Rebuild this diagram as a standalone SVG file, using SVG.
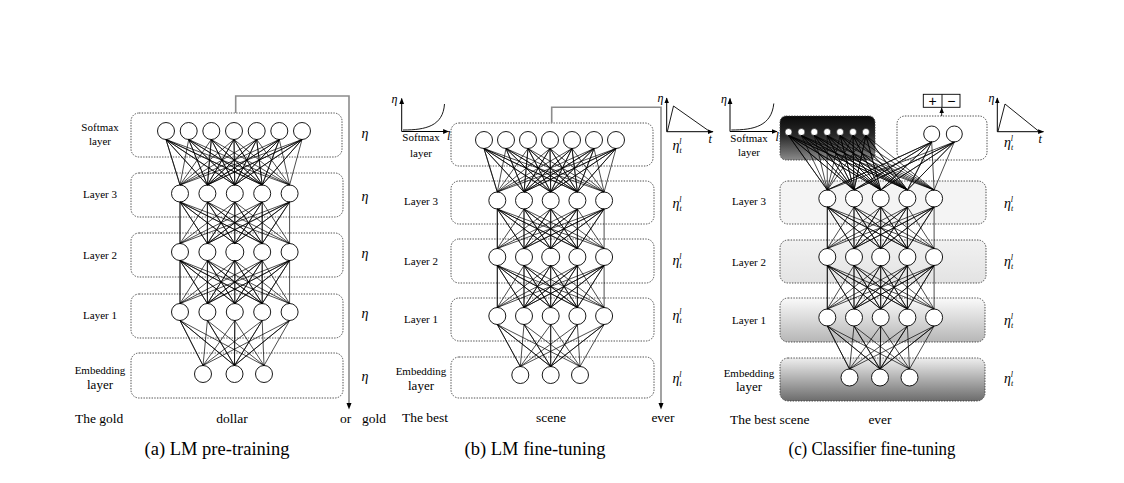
<svg xmlns="http://www.w3.org/2000/svg" width="1124" height="483" viewBox="0 0 1124 483">
<defs>
<style>
.box{fill:none;stroke:#3a3a3a;stroke-width:0.9;stroke-dasharray:1.4 1.3}
.n{fill:#fff;stroke:#000;stroke-width:0.9}
.sn{fill:#fff;stroke:#222;stroke-width:0.6}
.w{fill:none;stroke:#000;stroke-width:0.7;stroke-linejoin:round}
.flow{fill:none;stroke:#8c8c8c;stroke-width:1.6}
.ax{fill:none;stroke:#000;stroke-width:1}
.cv{fill:none;stroke:#000;stroke-width:0.9}
text{font-family:"Liberation Serif","Times New Roman",serif;fill:#000}
.lb{font-size:11px;text-anchor:middle}
.lb2{font-size:13px;text-anchor:middle}
.wd{font-size:13.5px}
.wdm{font-size:13.5px;text-anchor:middle}
.cap{font-size:18.5px;text-anchor:middle}
.eta{font-size:14px;font-style:italic}
.sm{font-size:8px;font-style:italic}
.gl{font-size:12px;font-style:italic}
</style>
<marker id="ah" viewBox="0 0 10 10" refX="9" refY="5" markerWidth="6" markerHeight="6" markerUnits="userSpaceOnUse" orient="auto"><path d="M0,1 L10,5 L0,9 z" fill="#000"/></marker>
<linearGradient id="gDark" x1="0" y1="0" x2="0" y2="1"><stop offset="0" stop-color="#0a0a0a"/><stop offset="0.45" stop-color="#2a2a2a"/><stop offset="1" stop-color="#8a8a8a"/></linearGradient>
<linearGradient id="gL2" x1="0" y1="0" x2="0" y2="1"><stop offset="0" stop-color="#f1f1f1"/><stop offset="1" stop-color="#e3e3e3"/></linearGradient>
<linearGradient id="gL1" x1="0" y1="0" x2="0" y2="1"><stop offset="0" stop-color="#fafafa"/><stop offset="1" stop-color="#b6b6b6"/></linearGradient>
<linearGradient id="gEmb" x1="0" y1="0" x2="0" y2="1"><stop offset="0" stop-color="#eeeeee"/><stop offset="1" stop-color="#6c6c6c"/></linearGradient>
</defs>
<rect width="1124" height="483" fill="#fff"/>

<!-- ===== Panel (a) ===== -->
<g id="a-softmax">
<rect class="box" x="131" y="113" width="211" height="44" rx="8"/>
<circle class="n" cx="166" cy="131" r="8.5"/><circle class="n" cx="188.7" cy="131" r="8.5"/><circle class="n" cx="211.3" cy="131" r="8.5"/><circle class="n" cx="234" cy="131" r="8.5"/><circle class="n" cx="256.7" cy="131" r="8.5"/><circle class="n" cx="279.3" cy="131" r="8.5"/><circle class="n" cx="302" cy="131" r="8.5"/>
<text class="lb" x="100" y="131">Softmax</text><text class="lb" x="100" y="145">layer</text>
<text class="eta" x="361.5" y="138">η</text>
</g>
<g id="a-layer3">
<rect class="box" x="131" y="173" width="212" height="44" rx="8"/>
<circle class="n" cx="180" cy="193.5" r="8.5"/><circle class="n" cx="207.4" cy="193.5" r="8.5"/><circle class="n" cx="234.8" cy="193.5" r="8.5"/><circle class="n" cx="262.2" cy="193.5" r="8.5"/><circle class="n" cx="289.6" cy="193.5" r="8.5"/>
<text class="lb" x="100" y="197.5">Layer 3</text>
<text class="eta" x="361.5" y="201">η</text>
</g>
<g id="a-layer2">
<rect class="box" x="131" y="233" width="212" height="44" rx="8"/>
<circle class="n" cx="180" cy="252" r="8.5"/><circle class="n" cx="207.4" cy="252" r="8.5"/><circle class="n" cx="234.8" cy="252" r="9"/><circle class="n" cx="262.2" cy="252" r="8.5"/><circle class="n" cx="289.6" cy="252" r="8.5"/>
<text class="lb" x="100" y="259">Layer 2</text>
<text class="eta" x="361.5" y="258">η</text>
</g>
<g id="a-layer1">
<rect class="box" x="131" y="294" width="212" height="44" rx="8"/>
<circle class="n" cx="180" cy="312" r="8.5"/><circle class="n" cx="207.4" cy="312" r="8.5"/><circle class="n" cx="234.8" cy="312" r="8.5"/><circle class="n" cx="262.2" cy="312" r="8.5"/><circle class="n" cx="289.6" cy="312" r="8.5"/>
<text class="lb" x="100" y="319">Layer 1</text>
<text class="eta" x="361.5" y="318">η</text>
</g>
<g id="a-embedding">
<rect class="box" x="131" y="353" width="212" height="45" rx="8"/>
<circle class="n" cx="203" cy="374" r="8.5"/><circle class="n" cx="234.5" cy="374" r="8.5"/><circle class="n" cx="264" cy="374" r="8.5"/>
<text class="lb" x="100" y="374">Embedding</text><text class="lb2" x="100" y="389">layer</text>
<text class="eta" x="361.5" y="380.5">η</text>
</g>
<g id="a-words">
<text class="wd" x="75" y="422.5">The gold</text>
<text class="wdm" x="232" y="422.5">dollar</text>
<text class="wd" x="340" y="422.5">or</text>
<text class="wd" x="362" y="422.5">gold</text>
<text class="cap" x="217" y="455">(a) LM pre-training</text>
</g>

<!-- ===== Panel (b) ===== -->
<g id="b-lr-discriminative">
<path class="ax" d="M401.7,131.5 V98.5" marker-end="url(#ah)"/>
<path class="ax" d="M401.7,131.5 H448.5" marker-end="url(#ah)"/>
<path class="cv" d="M403,130 C426,130 443,126 444.5,104"/>
<text class="gl" x="394.5" y="103" text-anchor="middle">η</text>
<text class="gl" x="447" y="140">l</text>
</g>
<g id="b-softmax">
<rect class="box" x="451" y="123" width="202" height="43" rx="8"/>
<circle class="n" cx="484" cy="140" r="8.5"/><circle class="n" cx="506" cy="140" r="8.5"/><circle class="n" cx="528" cy="140" r="8.5"/><circle class="n" cx="550" cy="140" r="8.5"/><circle class="n" cx="572" cy="140" r="8.5"/><circle class="n" cx="594" cy="140" r="8.5"/><circle class="n" cx="616" cy="140" r="8.5"/>
<text class="lb" x="421" y="141">Softmax</text><text class="lb" x="421" y="156.5">layer</text>
</g>
<g id="b-lr-slanted">
<path class="ax" d="M666.7,131.7 V98" marker-end="url(#ah)"/>
<path class="ax" d="M666.7,131.7 H713" marker-end="url(#ah)"/>
<path class="cv" d="M667.3,131.7 L673.5,106 L710,131.7"/>
<text class="gl" x="660.5" y="102" text-anchor="middle">η</text>
<text class="gl" x="708.5" y="143">t</text>
<text class="eta" x="672.5" y="150">η<tspan class="sm" dy="3">t</tspan><tspan class="sm" dx="-2.5" dy="-9">l</tspan></text>
</g>
<g id="b-layer3">
<rect class="box" x="451" y="181" width="203" height="43" rx="8"/>
<circle class="n" cx="497.3" cy="200.5" r="8.5"/><circle class="n" cx="524" cy="200.5" r="8.5"/><circle class="n" cx="550.7" cy="200.5" r="8.5"/><circle class="n" cx="577.4" cy="200.5" r="8.5"/><circle class="n" cx="604.1" cy="200.5" r="8.5"/>
<text class="lb" x="421" y="205">Layer 3</text>
<text class="eta" x="672.5" y="208">η<tspan class="sm" dy="3">t</tspan><tspan class="sm" dx="-2.5" dy="-9">l</tspan></text>
</g>
<g id="b-layer2">
<rect class="box" x="451" y="239" width="203" height="44" rx="8"/>
<circle class="n" cx="497.3" cy="257" r="8.5"/><circle class="n" cx="524" cy="257" r="8.5"/><circle class="n" cx="550.7" cy="257" r="9"/><circle class="n" cx="577.4" cy="257" r="8.5"/><circle class="n" cx="604.1" cy="257" r="8.5"/>
<text class="lb" x="421" y="264.5">Layer 2</text>
<text class="eta" x="672.5" y="265">η<tspan class="sm" dy="3">t</tspan><tspan class="sm" dx="-2.5" dy="-9">l</tspan></text>
</g>
<g id="b-layer1">
<rect class="box" x="451" y="298" width="203" height="43" rx="8"/>
<circle class="n" cx="497.3" cy="316" r="8.5"/><circle class="n" cx="524" cy="316" r="8.5"/><circle class="n" cx="550.7" cy="316" r="8.5"/><circle class="n" cx="577.4" cy="316" r="8.5"/><circle class="n" cx="604.1" cy="316" r="8.5"/>
<text class="lb" x="421" y="322.5">Layer 1</text>
<text class="eta" x="672.5" y="320">η<tspan class="sm" dy="3">t</tspan><tspan class="sm" dx="-2.5" dy="-9">l</tspan></text>
</g>
<g id="b-embedding">
<rect class="box" x="451" y="357" width="203" height="41" rx="8"/>
<circle class="n" cx="520.3" cy="375" r="8.5"/><circle class="n" cx="550.7" cy="375" r="8.5"/><circle class="n" cx="580" cy="375" r="8.5"/>
<text class="lb" x="421" y="375">Embedding</text><text class="lb2" x="421" y="389.5">layer</text>
<text class="eta" x="672.5" y="383">η<tspan class="sm" dy="3">t</tspan><tspan class="sm" dx="-2.5" dy="-9">l</tspan></text>
</g>
<g id="b-words">
<text class="wd" x="402" y="422">The best</text>
<text class="wdm" x="551" y="422">scene</text>
<text class="wdm" x="663" y="422">ever</text>
<text class="cap" x="535" y="455">(b) LM fine-tuning</text>
</g>

<!-- ===== Panel (c) ===== -->
<g id="c-lr-discriminative">
<path class="ax" d="M730,131.5 V98.5" marker-end="url(#ah)"/>
<path class="ax" d="M730,131.5 H777" marker-end="url(#ah)"/>
<path class="cv" d="M731.3,130 C754,130 771.5,126 773.8,103.5"/>
<text class="gl" x="724" y="103" text-anchor="middle">η</text>
<text class="gl" x="775.5" y="141">l</text>
</g>
<g id="c-softmax">
<rect x="780" y="116" width="95" height="44" rx="6" fill="url(#gDark)"/>
<rect class="box" x="780" y="116" width="95" height="44" rx="6"/>
<circle class="sn" cx="788.5" cy="132" r="3.5"/><circle class="sn" cx="801.4" cy="132" r="3.5"/><circle class="sn" cx="814.3" cy="132" r="3.5"/><circle class="sn" cx="827.2" cy="132" r="3.5"/><circle class="sn" cx="840.1" cy="132" r="3.5"/><circle class="sn" cx="853" cy="132" r="3.5"/><circle class="sn" cx="865.9" cy="132" r="3.5"/>
<text class="lb" x="749" y="141.5">Softmax</text><text class="lb" x="749" y="155.5">layer</text>
</g>
<g id="c-classifier">
<rect class="box" x="897" y="116" width="90" height="44" rx="8"/>
<circle class="n" cx="931.7" cy="134" r="8"/><circle class="n" cx="954.3" cy="134" r="8"/>
</g>
<g id="c-output">
<rect x="923.3" y="94.3" width="36.7" height="13" fill="#fff" stroke="#000" stroke-width="0.9"/>
<line x1="942" y1="94.3" x2="942" y2="107.3" stroke="#000" stroke-width="0.9"/>
<text x="932.7" y="105.5" text-anchor="middle" style="font-family:'Liberation Sans',Arial,sans-serif;font-size:14px">+</text>
<text x="951.3" y="105.5" text-anchor="middle" style="font-family:'Liberation Sans',Arial,sans-serif;font-size:14px">−</text>
</g>
<g id="c-lr-slanted">
<path class="ax" d="M997.3,131.7 V98" marker-end="url(#ah)"/>
<path class="ax" d="M997.3,131.7 H1043.5" marker-end="url(#ah)"/>
<path class="cv" d="M997.9,131.7 L1005,104 L1039.3,131.7"/>
<text class="gl" x="991.5" y="102" text-anchor="middle">η</text>
<text class="gl" x="1038.5" y="143">t</text>
<text class="eta" x="1004" y="146.5">η<tspan class="sm" dy="3">t</tspan><tspan class="sm" dx="-2.5" dy="-9">l</tspan></text>
</g>
<g id="c-layer3">
<rect x="780" y="181" width="206" height="43" rx="8" fill="#f4f4f4"/>
<rect class="box" x="780" y="181" width="206" height="43" rx="8"/>
<circle class="n" cx="827.3" cy="198.5" r="8.5"/><circle class="n" cx="854" cy="198.5" r="8.5"/><circle class="n" cx="880.7" cy="198.5" r="8.5"/><circle class="n" cx="907.4" cy="198.5" r="8.5"/><circle class="n" cx="934.1" cy="198.5" r="8.5"/>
<text class="lb" x="749" y="205">Layer 3</text>
<text class="eta" x="1004" y="207.5">η<tspan class="sm" dy="3">t</tspan><tspan class="sm" dx="-2.5" dy="-9">l</tspan></text>
</g>
<g id="c-layer2">
<rect x="780" y="240" width="206" height="43" rx="8" fill="url(#gL2)"/>
<rect class="box" x="780" y="240" width="206" height="43" rx="8"/>
<circle class="n" cx="827.3" cy="257" r="8.5"/><circle class="n" cx="854" cy="257" r="8.5"/><circle class="n" cx="880.7" cy="257" r="9"/><circle class="n" cx="907.4" cy="257" r="8.5"/><circle class="n" cx="934.1" cy="257" r="8.5"/>
<text class="lb" x="749" y="266">Layer 2</text>
<text class="eta" x="1004" y="265.5">η<tspan class="sm" dy="3">t</tspan><tspan class="sm" dx="-2.5" dy="-9">l</tspan></text>
</g>
<g id="c-layer1">
<rect x="780" y="298" width="205" height="44" rx="8" fill="url(#gL1)"/>
<rect class="box" x="780" y="298" width="205" height="44" rx="8"/>
<circle class="n" cx="827.3" cy="317.5" r="8.5"/><circle class="n" cx="854" cy="317.5" r="8.5"/><circle class="n" cx="880.7" cy="317.5" r="8.5"/><circle class="n" cx="907.4" cy="317.5" r="8.5"/><circle class="n" cx="934.1" cy="317.5" r="8.5"/>
<text class="lb" x="749" y="324">Layer 1</text>
<text class="eta" x="1004" y="325">η<tspan class="sm" dy="3">t</tspan><tspan class="sm" dx="-2.5" dy="-9">l</tspan></text>
</g>
<g id="c-embedding">
<rect x="780" y="358" width="205" height="43" rx="8" fill="url(#gEmb)"/>
<rect class="box" x="780" y="358" width="205" height="43" rx="8"/>
<circle class="n" cx="849.5" cy="377.5" r="8.5"/><circle class="n" cx="880" cy="377.5" r="8.5"/><circle class="n" cx="909.5" cy="377.5" r="8.5"/>
<text class="lb" x="749" y="376.5">Embedding</text><text class="lb2" x="749" y="391">layer</text>
<text class="eta" x="1004" y="383">η<tspan class="sm" dy="3">t</tspan><tspan class="sm" dx="-2.5" dy="-9">l</tspan></text>
</g>
<g id="c-words">
<text class="wd" x="730" y="423.5">The best scene</text>
<text class="wdm" x="880" y="423.5">ever</text>
<text class="cap" x="872" y="455" textLength="167" lengthAdjust="spacingAndGlyphs">(c) Classifier fine-tuning</text>
</g>

<!-- ===== Connectors ===== -->
<g id="connectors">
<!-- panel a -->
<polyline class="w" points="166,139.5 180,185 166,139.5 207.4,185 166,139.5 234.8,185 166,139.5 262.2,185 166,139.5 289.6,185 188.7,139.5 262.2,185 188.7,139.5 234.8,185 188.7,139.5 207.4,185 188.7,139.5 180,185 211.3,139.5 207.4,185 211.3,139.5 234.8,185 211.3,139.5 262.2,185 211.3,139.5 289.6,185 234,139.5 262.2,185 234,139.5 234.8,185 234,139.5 207.4,185 234,139.5 180,185 256.7,139.5 207.4,185 256.7,139.5 234.8,185 256.7,139.5 262.2,185 256.7,139.5 289.6,185 279.3,139.5 262.2,185 279.3,139.5 234.8,185 279.3,139.5 207.4,185 279.3,139.5 180,185 302,139.5 207.4,185 302,139.5 234.8,185 302,139.5 262.2,185 302,139.5 289.6,185"/>
<polyline class="w" points="180,202 180,243.5 180,202 207.4,243.5 180,202 234.8,243.5 180,202 262.2,243.5 180,202 289.6,243.5 207.4,202 262.2,243.5 207.4,202 234.8,243.5 207.4,202 207.4,243.5 207.4,202 180,243.5 234.8,202 207.4,243.5 234.8,202 234.8,243.5 234.8,202 262.2,243.5 234.8,202 289.6,243.5 262.2,202 262.2,243.5 262.2,202 234.8,243.5 262.2,202 207.4,243.5 262.2,202 180,243.5 289.6,202 207.4,243.5 289.6,202 234.8,243.5 289.6,202 262.2,243.5 289.6,202 289.6,243.5"/>
<polyline class="w" points="180,260.5 180,303.5 180,260.5 207.4,303.5 180,260.5 234.8,303.5 180,260.5 262.2,303.5 180,260.5 289.6,303.5 207.4,260.5 262.2,303.5 207.4,260.5 234.8,303.5 207.4,260.5 207.4,303.5 207.4,260.5 180,303.5 234.8,260.5 207.4,303.5 234.8,260.5 234.8,303.5 234.8,260.5 262.2,303.5 234.8,260.5 289.6,303.5 262.2,260.5 262.2,303.5 262.2,260.5 234.8,303.5 262.2,260.5 207.4,303.5 262.2,260.5 180,303.5 289.6,260.5 207.4,303.5 289.6,260.5 234.8,303.5 289.6,260.5 262.2,303.5 289.6,260.5 289.6,303.5"/>
<polyline class="w" points="180,320.5 203,365.5 180,320.5 234.5,365.5 180,320.5 264,365.5 207.4,320.5 234.5,365.5 207.4,320.5 203,365.5 234.8,320.5 234.5,365.5 234.8,320.5 264,365.5 262.2,320.5 234.5,365.5 262.2,320.5 203,365.5 289.6,320.5 234.5,365.5 289.6,320.5 264,365.5"/>
<path class="flow" d="M235.7,113 V96 H349 V404"/>
<path d="M346.5,403 L349,409.5 L351.5,403 z" fill="#000"/>
<!-- panel b -->
<polyline class="w" points="484,148.5 497.3,192 484,148.5 524,192 484,148.5 550.7,192 484,148.5 577.4,192 484,148.5 604.1,192 506,148.5 577.4,192 506,148.5 550.7,192 506,148.5 524,192 506,148.5 497.3,192 528,148.5 524,192 528,148.5 550.7,192 528,148.5 577.4,192 528,148.5 604.1,192 550,148.5 577.4,192 550,148.5 550.7,192 550,148.5 524,192 550,148.5 497.3,192 572,148.5 524,192 572,148.5 550.7,192 572,148.5 577.4,192 572,148.5 604.1,192 594,148.5 577.4,192 594,148.5 550.7,192 594,148.5 524,192 594,148.5 497.3,192 616,148.5 524,192 616,148.5 550.7,192 616,148.5 577.4,192 616,148.5 604.1,192"/>
<polyline class="w" points="497.3,209 497.3,248.5 497.3,209 524,248.5 497.3,209 550.7,248.5 497.3,209 577.4,248.5 497.3,209 604.1,248.5 524,209 577.4,248.5 524,209 550.7,248.5 524,209 524,248.5 524,209 497.3,248.5 550.7,209 524,248.5 550.7,209 550.7,248.5 550.7,209 577.4,248.5 550.7,209 604.1,248.5 577.4,209 577.4,248.5 577.4,209 550.7,248.5 577.4,209 524,248.5 577.4,209 497.3,248.5 604.1,209 524,248.5 604.1,209 550.7,248.5 604.1,209 577.4,248.5 604.1,209 604.1,248.5"/>
<polyline class="w" points="497.3,265.5 497.3,307.5 497.3,265.5 524,307.5 497.3,265.5 550.7,307.5 497.3,265.5 577.4,307.5 497.3,265.5 604.1,307.5 524,265.5 577.4,307.5 524,265.5 550.7,307.5 524,265.5 524,307.5 524,265.5 497.3,307.5 550.7,265.5 524,307.5 550.7,265.5 550.7,307.5 550.7,265.5 577.4,307.5 550.7,265.5 604.1,307.5 577.4,265.5 577.4,307.5 577.4,265.5 550.7,307.5 577.4,265.5 524,307.5 577.4,265.5 497.3,307.5 604.1,265.5 524,307.5 604.1,265.5 550.7,307.5 604.1,265.5 577.4,307.5 604.1,265.5 604.1,307.5"/>
<polyline class="w" points="497.3,324.5 520.3,366.5 497.3,324.5 550.7,366.5 497.3,324.5 580,366.5 524,324.5 550.7,366.5 524,324.5 520.3,366.5 550.7,324.5 550.7,366.5 550.7,324.5 580,366.5 577.4,324.5 550.7,366.5 577.4,324.5 520.3,366.5 604.1,324.5 550.7,366.5 604.1,324.5 580,366.5"/>
<path class="flow" d="M551.7,123 V107.3 H661 V404"/>
<path d="M658.5,403 L661,409.5 L663.5,403 z" fill="#000"/>
<!-- panel c -->
<polyline class="w" points="788.5,135.5 827.3,190 788.5,135.5 854,190 788.5,135.5 880.7,190 788.5,135.5 907.4,190 788.5,135.5 934.1,190 801.4,135.5 907.4,190 801.4,135.5 880.7,190 801.4,135.5 854,190 801.4,135.5 827.3,190 814.3,135.5 854,190 814.3,135.5 880.7,190 814.3,135.5 907.4,190 814.3,135.5 934.1,190 827.2,135.5 907.4,190 827.2,135.5 880.7,190 827.2,135.5 854,190 827.2,135.5 827.3,190 840.1,135.5 854,190 840.1,135.5 880.7,190 840.1,135.5 907.4,190 840.1,135.5 934.1,190 853,135.5 907.4,190 853,135.5 880.7,190 853,135.5 854,190 853,135.5 827.3,190 865.9,135.5 854,190 865.9,135.5 880.7,190 865.9,135.5 907.4,190 865.9,135.5 934.1,190"/>
<polyline class="w" points="931.7,142 827.3,190 931.7,142 854,190 931.7,142 880.7,190 931.7,142 907.4,190 931.7,142 934.1,190 954.3,142 907.4,190 954.3,142 880.7,190 954.3,142 854,190 954.3,142 827.3,190"/>
<polyline class="w" points="827.3,207 827.3,248.5 827.3,207 854,248.5 827.3,207 880.7,248.5 827.3,207 907.4,248.5 827.3,207 934.1,248.5 854,207 907.4,248.5 854,207 880.7,248.5 854,207 854,248.5 854,207 827.3,248.5 880.7,207 854,248.5 880.7,207 880.7,248.5 880.7,207 907.4,248.5 880.7,207 934.1,248.5 907.4,207 907.4,248.5 907.4,207 880.7,248.5 907.4,207 854,248.5 907.4,207 827.3,248.5 934.1,207 854,248.5 934.1,207 880.7,248.5 934.1,207 907.4,248.5 934.1,207 934.1,248.5"/>
<polyline class="w" points="827.3,265.5 827.3,309 827.3,265.5 854,309 827.3,265.5 880.7,309 827.3,265.5 907.4,309 827.3,265.5 934.1,309 854,265.5 907.4,309 854,265.5 880.7,309 854,265.5 854,309 854,265.5 827.3,309 880.7,265.5 854,309 880.7,265.5 880.7,309 880.7,265.5 907.4,309 880.7,265.5 934.1,309 907.4,265.5 907.4,309 907.4,265.5 880.7,309 907.4,265.5 854,309 907.4,265.5 827.3,309 934.1,265.5 854,309 934.1,265.5 880.7,309 934.1,265.5 907.4,309 934.1,265.5 934.1,309"/>
<polyline class="w" points="827.3,326 849.5,369 827.3,326 880,369 827.3,326 909.5,369 854,326 880,369 854,326 849.5,369 880.7,326 880,369 880.7,326 909.5,369 907.4,326 880,369 907.4,326 849.5,369 934.1,326 880,369 934.1,326 909.5,369"/>
<path d="M941.7,116 V108" fill="none" stroke="#000" stroke-width="0.9" marker-end="url(#ah)"/>
</g>
</svg>
